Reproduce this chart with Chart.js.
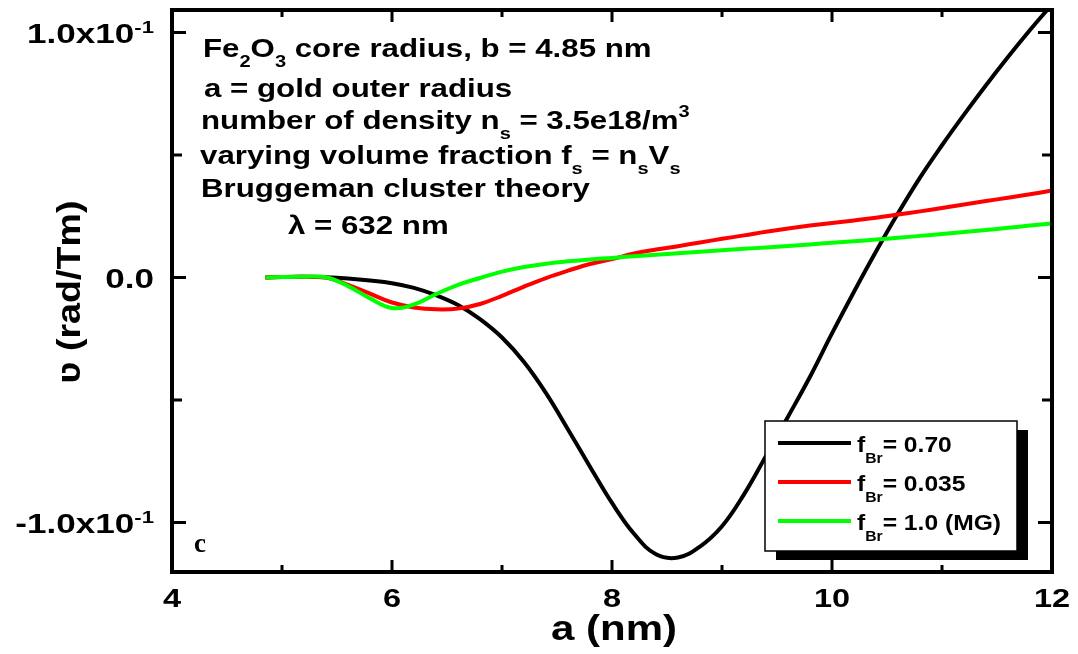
<!DOCTYPE html>
<html lang="en">
<head>
    <meta charset="UTF-8">
    <title>Faraday rotation vs gold outer radius</title>
    <style>
        body {
            margin: 0;
            background-color: white;
        }
        canvas {
            display: block;
        }
    </style>
    <script src="https://cdn.jsdelivr.net/npm/chart.js"></script>
</head>
<body>
    <canvas id="rotationChart" width="1078" height="654"></canvas>
    <script>
        // gold outer radius a (nm)
        const aValues = [4.85, 5.0, 5.2, 5.4, 5.6, 5.8, 6.0, 6.2, 6.4, 6.6, 6.8, 7.0, 7.2, 7.4, 7.6, 7.8,
            8.0, 8.2, 8.4, 8.6, 8.8, 9.0, 9.2, 9.4, 9.6, 9.8, 10.0, 10.2, 10.4, 10.6, 10.8,
            11.0, 11.2, 11.4, 11.6, 11.8, 12.0];

        // rotation (rad/Tm) for each Bruggeman fraction
        const rotBr070 = [0, 0.0002, 0.0003, 0.0001, -0.0004, -0.0012, -0.0023, -0.0042, -0.0072, -0.0112,
            -0.0170, -0.0245, -0.0345, -0.0472, -0.0620, -0.0772, -0.0920, -0.1046, -0.1130, -0.1143,
            -0.1098, -0.1015, -0.0885, -0.0728, -0.0568, -0.0405, -0.0228, -0.0058, 0.0106,
            0.0262, 0.0408, 0.0540, 0.0665, 0.0785, 0.0900, 0.1010, 0.1115];
        const rotBr0035 = [0, 0.0002, 0.0003, 0.0000, -0.0030, -0.0066, -0.0102, -0.0122, -0.0130, -0.0127,
            -0.0108, -0.0075, -0.0037, -0.0002, 0.0028, 0.0055, 0.0075, 0.0098, 0.0114,
            0.0128, 0.0143, 0.0158, 0.0172, 0.0187, 0.0200, 0.0212, 0.0223, 0.0233, 0.0244,
            0.0257, 0.0270, 0.0284, 0.0298, 0.0312, 0.0326, 0.0340, 0.0355];
        const rotMG = [0, 0.0002, 0.0003, 0.0001, -0.0035, -0.0085, -0.0124, -0.0110, -0.0068, -0.0030,
            -0.0002, 0.0024, 0.0043, 0.0056, 0.0066, 0.0074, 0.0080, 0.0087, 0.0093,
            0.0099, 0.0105, 0.0111, 0.0117, 0.0123, 0.0129, 0.0135, 0.0142, 0.0148, 0.0155,
            0.0162, 0.0170, 0.0178, 0.0186, 0.0194, 0.0203, 0.0212, 0.0221];

        const seriesLabels = ['= 0.70', '= 0.035', '= 1.0 (MG)'];
        const seriesColors = ['#000000', '#ff0000', '#00ff00'];

        const xTicks = [4, 5, 6, 7, 8, 9, 10, 11, 12];
        const xTickLabels = ['4', '', '6', '', '8', '', '10', '', '12'];
        const yTicks = [-0.1, -0.05, 0, 0.05, 0.1];
        const yTickLabels = [['-1.0x10', '-1'], null, ['0.0', ''], null, ['1.0x10', '-1']];

        // text block in the upper left; parts are [text, 'sub' | 'sup' | '']
        const noteLines = [
            [['Fe', ''], ['2', 'sub'], ['O', ''], ['3', 'sub'], [' core radius, b = 4.85 nm', '']],
            [['a = gold outer radius', '']],
            [['number of density n', ''], ['s', 'sub'], [' = 3.5e18/m', ''], ['3', 'sup']],
            [['varying volume fraction f', ''], ['s', 'sub'], [' = n', ''], ['s', 'sub'], ['V', ''], ['s', 'sub']],
            [['Bruggeman cluster theory', '']],
            [['\u03bb = 632 nm', '']]
        ];

        function toPoints(ys) {
            return aValues.map((a, i) => ({ x: a, y: ys[i] }));
        }

        const FONT = '"Liberation Sans", Arial, sans-serif';

        // draws a run of text with sub/superscripts, stretched horizontally by sx
        function drawRich(ctx, parts, x, y, size, sx, align, subDy, supDy) {
            const small = Math.round(size * 0.62);
            ctx.save();
            ctx.translate(x, y);
            ctx.scale(sx, 1);
            ctx.textBaseline = 'alphabetic';
            ctx.textAlign = 'left';
            let total = 0;
            parts.forEach(p => {
                ctx.font = 'bold ' + (p[1] ? small : size) + 'px ' + FONT;
                total += ctx.measureText(p[0]).width;
            });
            let cx = align === 'right' ? -total : (align === 'center' ? -total / 2 : 0);
            parts.forEach(p => {
                ctx.font = 'bold ' + (p[1] ? small : size) + 'px ' + FONT;
                let dy = 0;
                if (p[1] === 'sub') dy = subDy;
                if (p[1] === 'sup') dy = supDy;
                ctx.fillText(p[0], cx, dy);
                cx += ctx.measureText(p[0]).width;
            });
            ctx.restore();
        }

        const framePlugin = {
            id: 'frame',
            afterDatasetsDraw(chart) {
                const ctx = chart.ctx;
                const area = chart.chartArea;
                const xs = chart.scales.x;
                const ys = chart.scales.y;
                ctx.save();
                ctx.fillStyle = '#000';
                ctx.strokeStyle = '#000';

                // axis box
                ctx.lineWidth = 4;
                ctx.strokeRect(area.left, area.top, area.right - area.left, area.bottom - area.top);

                // inward ticks on all four sides
                ctx.lineWidth = 3;
                xTicks.forEach(v => {
                    const px = xs.getPixelForValue(v);
                    const len = v % 2 === 0 ? 12 : 7;
                    ctx.beginPath();
                    ctx.moveTo(px, area.bottom);
                    ctx.lineTo(px, area.bottom - len);
                    ctx.moveTo(px, area.top);
                    ctx.lineTo(px, area.top + len);
                    ctx.stroke();
                });
                yTicks.forEach((v, i) => {
                    const py = ys.getPixelForValue(v);
                    const len = yTickLabels[i] ? 14 : 10;
                    ctx.beginPath();
                    ctx.moveTo(area.left, py);
                    ctx.lineTo(area.left + len, py);
                    ctx.moveTo(area.right, py);
                    ctx.lineTo(area.right - len, py);
                    ctx.stroke();
                });

                // tick labels
                xTicks.forEach((v, i) => {
                    if (!xTickLabels[i]) return;
                    drawRich(ctx, [[xTickLabels[i], '']], xs.getPixelForValue(v), 607, 26, 1.25, 'center', 0, 0);
                });
                yTicks.forEach((v, i) => {
                    const lab = yTickLabels[i];
                    if (!lab) return;
                    const parts = [[lab[0], '']];
                    if (lab[1]) parts.push([lab[1], 'sup']);
                    drawRich(ctx, parts, 154, ys.getPixelForValue(v) + 10, 27, 1.3, 'right', 0, -10);
                });

                // axis titles
                drawRich(ctx, [['a (nm)', '']], 614, 640, 35, 1.2, 'center', 0, 0);
                ctx.save();
                ctx.translate(80, 292);
                ctx.rotate(-Math.PI / 2);
                drawRich(ctx, [['\u028b (rad/Tm)', '']], 0, 0, 33, 1.14, 'center', 0, 0);
                ctx.restore();

                // notes
                const noteX = [203, 204, 201, 200, 201, 288];
                const noteY = [57, 97, 129, 164, 197, 234];
                noteLines.forEach((line, i) => {
                    drawRich(ctx, line, noteX[i], noteY[i], 25, 1.25, 'left', 10, -12);
                });

                // panel letter
                ctx.font = 'bold 27px "Liberation Serif", "Times New Roman", serif';
                ctx.textAlign = 'left';
                ctx.fillText('c', 194, 552);

                // legend with drop shadow
                const lx = 765, ly = 421, lw = 252, lh = 130;
                ctx.fillRect(lx + 11, ly + 9, lw, lh);
                ctx.fillStyle = '#fff';
                ctx.fillRect(lx, ly, lw, lh);
                ctx.lineWidth = 1.5;
                ctx.strokeRect(lx, ly, lw, lh);
                seriesLabels.forEach((lab, i) => {
                    const rowY = 443 + i * 39;
                    ctx.strokeStyle = seriesColors[i];
                    ctx.lineWidth = 4;
                    ctx.beginPath();
                    ctx.moveTo(778, rowY);
                    ctx.lineTo(851, rowY);
                    ctx.stroke();
                    ctx.fillStyle = '#000';
                    drawRich(ctx, [['f', ''], ['Br', 'sub'], [lab, '']], 857, rowY + 9, 22, 1.12, 'left', 11, 0);
                });
                ctx.restore();
            }
        };

        new Chart(document.getElementById('rotationChart'), {
            type: 'line',
            data: {
                datasets: [
                    { label: 'fBr = 0.70', data: toPoints(rotBr070), borderColor: seriesColors[0], order: 3 },
                    { label: 'fBr = 0.035', data: toPoints(rotBr0035), borderColor: seriesColors[1], order: 2 },
                    { label: 'fBr = 1.0 (MG)', data: toPoints(rotMG), borderColor: seriesColors[2], order: 1 }
                ]
            },
            options: {
                responsive: false,
                devicePixelRatio: 1,
                animation: false,
                layout: { padding: { left: 172, right: 26, top: 10, bottom: 82 } },
                elements: {
                    line: { borderWidth: 4, tension: 0.4, fill: false },
                    point: { radius: 0 }
                },
                plugins: {
                    legend: { display: false },
                    tooltip: { enabled: false }
                },
                scales: {
                    x: { type: 'linear', min: 4, max: 12, display: false },
                    y: { type: 'linear', min: -0.1202, max: 0.1092, display: false }
                }
            },
            plugins: [framePlugin]
        });
    </script>
</body>
</html>
